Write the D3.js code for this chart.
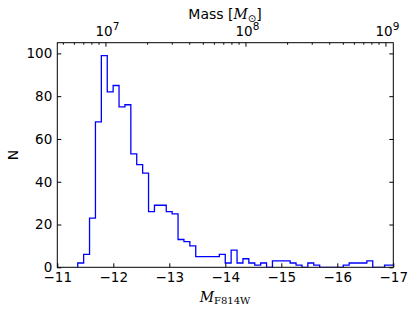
<!DOCTYPE html>
<html>
<head>
<meta charset="utf-8">
<script src="https://d3js.org/d3.v7.min.js"></script>
<style>
  body { margin: 0; background: #fff; }
  svg { display: block; }
  text { font-family: "DejaVu Sans", sans-serif; fill: #000; }
  .tick text { font-size: 13.5px; }
</style>
</head>
<body>
<svg id="chart" width="416" height="311"></svg>
<script>
  // histogram counts, bins of equal width starting at binStart (mag)
  var binStart = -11.365
  var binWidth = 0.10536
  var counts = [2, 6, 23, 68, 99, 82, 85, 75, 76, 53,
                48, 44, 26, 29, 29, 26, 25, 13, 12, 10,
                5, 5, 5, 5, 6, 2, 8, 2, 4, 2,
                1, 2, 0, 3, 3, 3, 2, 1, 0, 2,
                1, 0, 0, 0, 0, 1, 2, 2, 2, 3,
                0, 0, 1, 1]
  var magTicks = [-11, -12, -13, -14, -15, -16, -17]
  var nTicks = [0, 20, 40, 60, 80, 100]
  var massTicks = [1e7, 1e8, 1e9]
  var massExp = [7, 8, 9]

  var svg = d3.select('#chart')
  // plot box edges (note: "top" is a reserved window global, so avoid it)
  var pL = 57.3, pR = 393.3, pT = 42.7, pB = 267.3

  var x = d3.scaleLinear().domain([-11, -17]).range([pL, pR])
  var y = d3.scaleLinear().domain([0, 105]).range([pB, pT])

  // mass from magnitude: 10^7 sits at M = -11.86, 2.5 mag per decade
  function massOf(M) { return Math.pow(10, 7 - 0.4 * (M + 11.86)) }
  var xm = d3.scaleLog().domain([massOf(-11), massOf(-17)]).range([pL, pR])

  svg.append('clipPath').attr('id', 'clip')
    .append('rect').attr('x', pL).attr('y', pT)
    .attr('width', pR - pL).attr('height', pB - pT)

  // step outline
  var pts = [[binStart, 0]]
  counts.forEach(function(c, i) {
    pts.push([binStart - i * binWidth, c])
    pts.push([binStart - (i + 1) * binWidth, c])
  })
  pts.push([binStart - counts.length * binWidth, 0])

  var line = d3.line().x(function(d) { return x(d[0]) }).y(function(d) { return y(d[1]) })
  svg.append('path')
    .attr('d', line(pts))
    .attr('clip-path', 'url(#clip)')
    .attr('fill', 'none')
    .attr('stroke', '#0000ff')
    .attr('stroke-width', 1.3)

  // axes, ticks pointing inward
  svg.append('g').attr('transform', 'translate(0,' + pB + ')')
    .call(d3.axisBottom(x).tickValues(magTicks).tickSize(-4).tickPadding(5)
      .tickFormat(function(d) { return d3.format('d')(d) }))
  svg.append('g').attr('transform', 'translate(' + pL + ',0)')
    .call(d3.axisLeft(y).tickValues(nTicks).tickSize(-4).tickPadding(5))
  svg.append('g').attr('transform', 'translate(' + pR + ',0)')
    .call(d3.axisRight(y).tickValues(nTicks).tickSize(-4).tickFormat(''))
  var gt = svg.append('g').attr('transform', 'translate(0,' + pT + ')')
    .call(d3.axisTop(xm).tickValues(massTicks).tickSize(-4).tickFormat(''))

  // minor ticks of the log axis
  var minor = []
  ;[6, 7, 8].forEach(function(e) {
    for (var k = 2; k <= 9; k++) {
      var v = k * Math.pow(10, e)
      if (v > xm.domain()[0] && v < xm.domain()[1]) minor.push(v)
    }
  })
  gt.selectAll('.minor').data(minor).enter().append('line')
    .attr('class', 'minor')
    .attr('x1', function(d) { return xm(d) }).attr('x2', function(d) { return xm(d) })
    .attr('y1', 0).attr('y2', 2)
    .attr('stroke', '#000')

  // mass labels 10^n
  var lab = svg.selectAll('.mlab').data(massTicks).enter().append('text')
    .attr('class', 'mlab')
    .attr('x', function(d) { return xm(d) + 2 })
    .attr('y', 36)
    .attr('text-anchor', 'middle')
    .style('font-size', '13.5px')
  lab.append('tspan').text('10')
  lab.append('tspan').attr('dy', -6).style('font-size', '10.5px')
    .text(function(d, i) { return massExp[i] })

  svg.selectAll('.domain').remove()
  svg.append('rect')
    .attr('x', pL).attr('y', pT)
    .attr('width', pR - pL).attr('height', pB - pT)
    .attr('fill', 'none').attr('stroke', '#000').attr('stroke-width', 1)

  // axis titles
  svg.append('text')
    .attr('transform', 'translate(18,155) rotate(-90)')
    .attr('text-anchor', 'middle')
    .style('font-size', '14px')
    .text('N')

  var t1 = svg.append('text').attr('x', 225).attr('y', 19)
    .attr('text-anchor', 'middle').style('font-size', '14px')
  t1.append('tspan').text('Mass [')
  t1.append('tspan').style('font-family', '"DejaVu Serif", serif').style('font-style', 'italic').text('M')
  t1.append('tspan').attr('dy', 3).style('font-size', '10px').text('\u2299')
  t1.append('tspan').attr('dy', -3).text(']')

  var t2 = svg.append('text').attr('x', 225).attr('y', 302)
    .attr('text-anchor', 'middle')
    .style('font-family', '"DejaVu Serif", serif').style('font-size', '14px')
  t2.append('tspan').style('font-style', 'italic').text('M')
  t2.append('tspan').attr('dy', 2).style('font-size', '10px').text('F814W')
</script>
</body>
</html>
